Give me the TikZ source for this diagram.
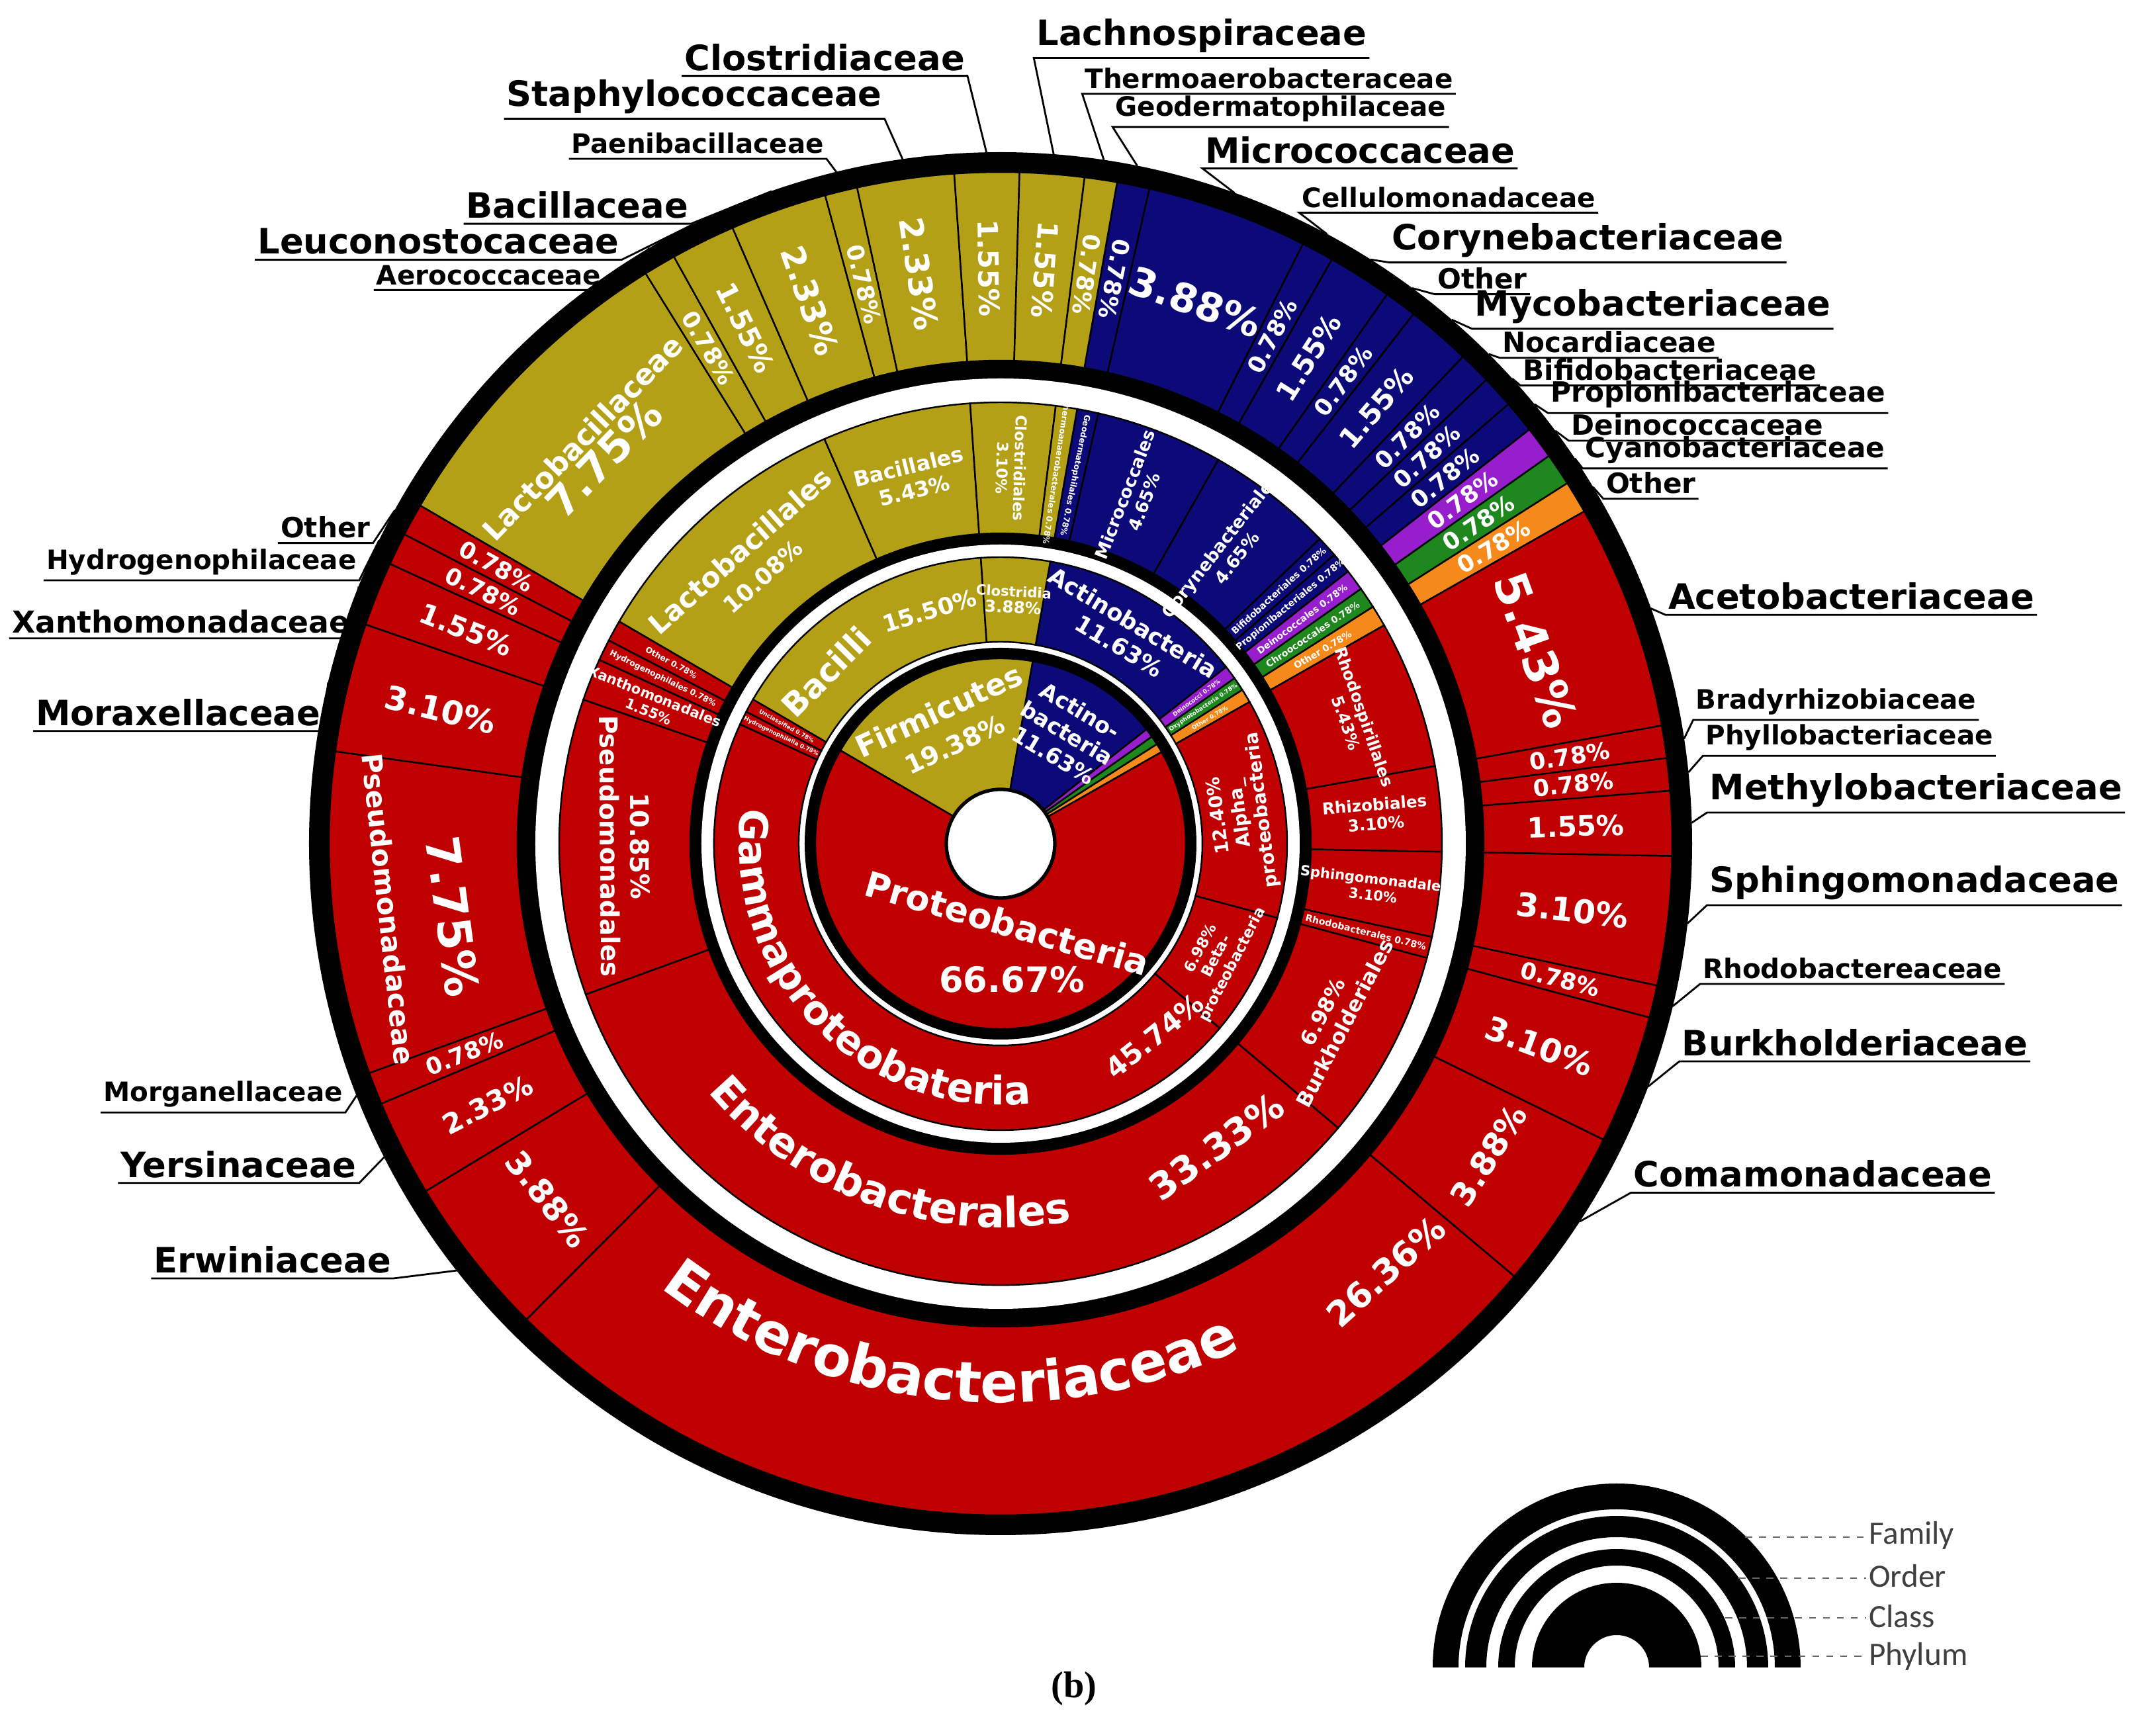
\documentclass[tikz,border=0pt]{standalone}
\usepackage{fontspec}
\setmainfont{DejaVu Sans}
\newfontfamily\carl{Carlito}
\newfontfamily\tms{Liberation Serif}
\usetikzlibrary{decorations.text}
\definecolor{pro}{RGB}{192,0,0}
\definecolor{fir}{RGB}{179,160,22}
\definecolor{act}{RGB}{12,10,120}
\definecolor{dei}{RGB}{150,30,205}
\definecolor{cya}{RGB}{30,135,30}
\definecolor{oth}{RGB}{245,138,26}
\newcommand\fs[1]{\fontsize{#1}{\fpeval{1.18*#1}}\selectfont\bfseries}
\newcommand\fsE{\fs{24}}
\newcommand\fsO{\fs{18}}
\newcommand\fsG{\fs{17}}
\newcommand\seg[5]{\pgfmathsetmacro\aA{80-3.596*#3}\pgfmathsetmacro\aB{80-3.596*#4}%
\filldraw[fill=#5,draw=black,line width=0.7pt] (\aA:#1) arc[start angle=\aA,end angle=\aB,radius=#1] -- (\aB:#2) arc[start angle=\aB,end angle=\aA,radius=#2] -- cycle;}
\newcommand\ring[3]{\foreach \p/\q/\c in {#3} {\seg{#1}{#2}{\p}{\q}{\c}}}
\newcommand\wl[5]{\pgfmathsetmacro\aM{80-3.596*#2}\pgfmathsetmacro\aR{\aM+#3}%
\node[wt,rotate=\aR,font=#4] at (\aM:#1) {#5};}
\newcommand\labR[5]{\node[lab,font=\fs{#4},anchor=south west] (L#1) at (#2,#3) {#5};
\draw[leader] (F#1) -- (L#1.south west) -- (L#1.south east);}
\newcommand\labL[5]{\node[lab,font=\fs{#4},anchor=south east] (L#1) at (#2,#3) {#5};
\draw[leader] (F#1) -- (L#1.south east) -- (L#1.south west);}
\tikzset{wt/.style={text=white,align=center,inner sep=0pt},
 lab/.style={text=black,inner xsep=1pt,inner ysep=2pt},
 leader/.style={line width=0.8pt,black},
 ctext/.style={decorate,decoration={text along path,text color=white,text align=center}}}
\begin{document}
\begin{tikzpicture}
\useasboundingbox (-15.12,-13.41) rectangle (17.46,12.75);
\fill[white] (-15.12,-13.41) rectangle (17.46,12.75);
% outer black
\fill[black] (0,0) circle (10.45);
% family ring
\ring{7.30}{10.15}{0/0.78/act,0.78/4.66/act,4.66/5.44/act,5.44/6.99/act,6.99/7.77/act,7.77/9.32/act,9.32/10.10/act,10.10/10.88/act,10.88/11.66/act,11.66/12.44/dei,12.44/13.22/cya,13.22/14.00/oth,14.00/19.43/pro,19.43/20.21/pro,20.21/20.99/pro,20.99/22.54/pro,22.54/25.64/pro,25.64/26.42/pro,26.42/29.52/pro,29.52/33.40/pro,33.40/59.76/pro,59.76/63.64/pro,63.64/65.97/pro,65.97/66.75/pro,66.75/74.50/pro,74.50/77.60/pro,77.60/79.15/pro,79.15/79.93/pro,79.93/80.71/pro,80.71/88.46/fir,88.46/89.24/fir,89.24/90.79/fir,90.79/93.12/fir,93.12/93.90/fir,93.90/96.23/fir,96.23/97.78/fir,97.78/99.33/fir,99.33/100.11/fir}
\fill[black] (0,0) circle (7.30);
\fill[white] (0,0) circle (7.03);
% order ring
\ring{4.69}{6.67}{0/0.78/act,0.78/5.44/act,5.44/10.10/act,10.10/10.88/act,10.88/11.66/act,11.66/12.44/dei,12.44/13.22/cya,13.22/14.00/oth,14.00/19.43/pro,19.43/22.54/pro,22.54/25.64/pro,25.64/26.42/pro,26.42/33.40/pro,33.40/66.75/pro,66.75/77.60/pro,77.60/79.15/pro,79.15/79.93/pro,79.93/80.71/pro,80.71/90.79/fir,90.79/96.23/fir,96.23/99.33/fir,99.33/100.11/fir}
\fill[black] (0,0) circle (4.69);
\fill[white] (0,0) circle (4.52);
% class ring
\ring{3.05}{4.33}{0/11.66/act,11.66/12.44/dei,12.44/13.22/cya,13.22/14.00/oth,14.00/26.42/pro,26.42/33.40/pro,33.40/79.15/pro,79.15/79.93/pro,79.93/80.71/pro,80.71/96.23/fir,96.23/100.11/fir}
\fill[white] (0,0) circle (3.02);
\fill[black] (0,0) circle (2.96);
% phylum ring
\ring{0.82}{2.80}{0/11.66/act,11.66/12.44/dei,12.44/13.22/cya,13.22/14.00/oth,14.00/80.71/pro,80.71/100.11/fir}
\filldraw[fill=white,draw=black,line width=1.5pt] (0,0) circle (0.82);

% ---------- family labels inside ----------
\wl{8.7}{0.39}{180}{\fs{10}}{0.78\%}
\wl{8.7}{2.72}{-90}{\fs{17}}{3.88\%}
\wl{8.7}{5.05}{0}{\fs{10}}{0.78\%}
\wl{8.7}{6.215}{0}{\fs{12}}{1.55\%}
\wl{8.7}{7.38}{0}{\fs{10}}{0.78\%}
\wl{8.7}{8.545}{0}{\fs{12}}{1.55\%}
\foreach \pp in {9.71,10.49,11.27,12.05,12.83,13.61} {\wl{8.7}{\pp}{0}{\fs{10}}{0.78\%}}
\wl{8.6}{16.715}{-90}{\fs{20}}{5.43\%}
\wl{8.7}{19.82}{0}{\fs{10}}{0.78\%}
\wl{8.7}{20.6}{0}{\fs{10}}{0.78\%}
\wl{8.7}{21.765}{0}{\fs{12}}{1.55\%}
\wl{8.7}{24.09}{0}{\fs{14}}{3.10\%}
\wl{8.7}{26.03}{0}{\fs{10}}{0.78\%}
\wl{8.7}{27.97}{0}{\fs{14}}{3.10\%}
\wl{8.75}{31.3}{90}{\fs{14}}{3.88\%}
\wl{8.7}{35.6}{90}{\fs{15}}{26.36\%}
\wl{8.7}{61.7}{90}{\fs{14}}{3.88\%}
\wl{8.7}{64.805}{180}{\fs{12}}{2.33\%}
\wl{8.7}{66.36}{180}{\fs{10}}{0.78\%}
\wl{8.35}{70.2}{90}{\fs{20}}{7.75\%}
\wl{9.3}{70.6}{90}{\fs{12}}{Pseudomonadaceae}
\wl{8.7}{76.05}{180}{\fs{14}}{3.10\%}
\wl{8.7}{78.375}{180}{\fs{12}}{1.55\%}
\wl{8.7}{79.54}{180}{\fs{10}}{0.78\%}
\wl{8.7}{80.32}{180}{\fs{10}}{0.78\%}
\wl{8.55}{84.585}{-90}{\fs{12.5}}{Lactobacillaceae\\{\fs{18}7.75\%}}
\wl{8.7}{88.85}{180}{\fs{10}}{0.78\%}
\wl{8.7}{90.015}{180}{\fs{12}}{1.55\%}
\wl{8.7}{91.955}{180}{\fs{14}}{2.33\%}
\wl{8.7}{93.51}{180}{\fs{10}}{0.78\%}
\wl{8.7}{95.065}{180}{\fs{14}}{2.33\%}
\wl{8.7}{97.005}{180}{\fs{12}}{1.55\%}
\wl{8.7}{98.555}{180}{\fs{12}}{1.55\%}
\wl{8.7}{99.72}{180}{\fs{10}}{0.78\%}
\path[ctext,decoration={text={|\fsE|Enterobacteriaceae}}] (227:8.45) arc[start angle=227,end angle=301,radius=8.45];

% ---------- order labels ----------
\wl{5.68}{0.39}{180}{\fs{3.5}}{Geodermatophilales 0.78\%}
\wl{5.6}{3.11}{0}{\fs{7.5}}{Micrococcales\\4.65\%}
\wl{5.6}{7.77}{0}{\fs{7.5}}{Corynebacteriales\\4.65\%}
\wl{5.68}{10.49}{0}{\fs{4}}{Bifidobacteriales 0.78\%}
\wl{5.68}{11.27}{0}{\fs{4}}{Propionibacteriales 0.78\%}
\wl{5.68}{12.05}{0}{\fs{4}}{Deinococcales 0.78\%}
\wl{5.68}{12.83}{0}{\fs{4}}{Chroococcales 0.78\%}
\wl{5.68}{13.61}{0}{\fs{4}}{Other 0.78\%}
\wl{5.68}{16.9}{-90}{\fs{7}}{Rhodospirillales\\5.43\%}
\wl{5.68}{20.99}{0}{\fs{7}}{Rhizobiales\\3.10\%}
\wl{5.68}{24.09}{0}{\fs{6}}{Sphingomonadales\\3.10\%}
\wl{5.68}{26.03}{0}{\fs{4}}{Rhodobacterales 0.78\%}
\wl{5.68}{29.91}{90}{\fs{9}}{6.98\%\\Burkholderiales}
\path[ctext,decoration={text={|\fsO|Enterobacterales}}] (212:5.8) arc[start angle=212,end angle=289,radius=5.8];
\wl{5.62}{37.4}{90}{\fs{16}}{33.33\%}
\wl{5.68}{72.2}{90}{\fs{11}}{10.85\%\\Pseudomonadales}
\wl{5.68}{78.38}{180}{\fs{6}}{Xanthomonadales\\1.55\%}
\wl{5.68}{79.54}{180}{\fs{3.5}}{Hydrogenophilales 0.78\%}
\wl{5.68}{80.32}{180}{\fs{3.5}}{Other 0.78\%}
\wl{5.68}{85.75}{-90}{\fs{12}}{Lactobacillales\\{\fs{10}10.08\%}}
\wl{5.68}{93.51}{-90}{\fs{9}}{Bacillales\\5.43\%}
\wl{5.68}{97.78}{180}{\fs{6.5}}{Clostridiales\\3.10\%}
\wl{5.68}{99.72}{180}{\fs{3.5}}{Thermoanaerobacterales 0.78\%}

% ---------- class labels ----------
\wl{3.69}{5.83}{-90}{\fs{10}}{Actinobacteria\\11.63\%}
\wl{3.69}{12.05}{0}{\fs{2.5}}{Deinococci 0.78\%}
\wl{3.69}{12.83}{0}{\fs{2.5}}{Oxyphotobacteria 0.78\%}
\wl{3.69}{13.61}{0}{\fs{2.5}}{Other 0.78\%}
\wl{3.66}{20.21}{90}{\fs{8}}{12.40\%\\Alpha\_\\proteobacteria}
\wl{3.69}{29.91}{90}{\fs{6.5}}{6.98\%\\Beta-\\proteobacteria}
\path[ctext,decoration={text={|\fsG|Gammaproteobateria}}] (163:3.95) arc[start angle=163,end angle=286,radius=3.95];
\wl{3.72}{36.5}{90}{\fs{12}}{45.74\%}
\wl{3.69}{79.54}{180}{\fs{2.5}}{Hydrogenophilalia 0.78\%}
\wl{3.69}{80.32}{180}{\fs{2.5}}{Unclassified 0.78\%}
\wl{3.7}{84.7}{-90}{\fs{14}}{Bacilli}
\wl{3.68}{92.6}{-90}{\fs{10}}{15.50\%}
\wl{3.69}{98.17}{-90}{\fs{6}}{Clostridia\\{\fs{7}3.88\%}}

% ---------- phylum labels ----------
\wl{1.95}{90.42}{-90}{\fs{13}}{Firmicutes\\{\fs{11}19.38\%}}
\wl{1.95}{5.83}{-90}{\fs{9.5}}{Actino-\\bacteria\\11.63\%}
\node[wt,font=\fs{15},rotate=-16] (prot) at (0.1,-1.2) {Proteobacteria};
\node[wt,font=\fs{15}] (protp) at (0.17,-2.05) {66.67\%};

% ---------- leader anchor points ----------
\foreach \i/\pp in {1/0.39,2/2.72,3/5.05,4/6.215,5/7.38,6/8.545,7/9.71,8/10.49,9/11.27,10/12.05,11/12.83,12/13.61,13/16.715,14/19.82,15/20.6,16/21.765,17/24.09,18/26.03,19/27.97,20/31.46,22/61.7,23/64.805,24/66.36,26/76.05,27/78.375,28/79.54,29/80.32,31/88.85,32/90.015,33/91.955,34/93.51,35/95.065,36/97.005,37/98.555,38/99.72}
{\pgfmathsetmacro\aM{80-3.596*\pp}\coordinate (F\i) at (\aM:10.45);}

% ---------- outside labels (reference pixel frame) ----------
\begin{scope}[x=0.020885cm,y=-0.020885cm,shift={(-723.96,-610.5)}]
\labL{36}{700}{55}{15}{Clostridiaceae}
\labR{37}{748}{42}{15}{Lachnospiraceae}
\labR{38}{783}{68}{11.5}{Thermoaerobacteraceae}
\labR{1}{805}{92}{11.5}{Geodermatophilaceae}
\labR{2}{870}{122}{15}{Micrococcaceae}
\labL{35}{640}{86}{15}{Staphylococcaceae}
\labL{34}{598}{115}{11.5}{Paenibacillaceae}
\labL{33}{500}{162}{15}{Bacillaceae}
\labL{32}{450}{188}{15}{Leuconostocaceae}
\labL{31}{437}{210}{11.5}{Aerococcaceae}
\labR{3}{940}{154}{11.5}{Cellulomonadaceae}
\labR{4}{1005}{190}{15}{Corynebacteriaceae}
\labR{5}{1038}{213}{12}{Other}
\labR{6}{1065}{238}{15}{Mycobacteriaceae}
\labR{7}{1085}{259}{12}{Nocardiaceae}
\labR{8}{1100}{279}{12}{Bifidobacteriaceae}
\labR{9}{1120}{299}{12}{Propionibacteriaceae}
\labR{10}{1135}{319}{12}{Deinococcaceae}
\labR{11}{1145}{339}{12}{Cyanobacteriaceae}
\labR{12}{1160}{361}{12}{Other}
\labR{13}{1205}{445}{15}{Acetobacteriaceae}
\labR{14}{1225}{521}{11.5}{Bradyrhizobiaceae}
\labR{15}{1232}{547}{11.5}{Phyllobacteriaceae}
\labR{16}{1235}{588}{15}{Methylobacteriaceae}
\labR{17}{1235}{655}{15}{Sphingomonadaceae}
\labR{18}{1230}{712}{11.5}{Rhodobactereaceae}
\labR{19}{1215}{768}{15}{Burkholderiaceae}
\labR{20}{1180}{863}{15}{Comamonadaceae}
\labL{29}{270}{393}{12}{Other}
\labL{28}{260}{420}{11.5}{Hydrogenophilaceae}
\labL{27}{255}{462}{13}{Xanthomonadaceae}
\labL{26}{234}{529}{15}{Moraxellaceae}
\labL{24}{250}{805}{11.5}{Morganellaceae}
\labL{23}{260}{856}{15}{Yersinaceae}
\labL{22}{285}{925}{15}{Erwiniaceae}
\end{scope}

% ---------- legend ----------
\begin{scope}[shift={(9.31,-12.45)}]
\foreach \ra/\rb in {2.39/2.78,1.97/2.29,1.54/1.79,0.49/1.28}
 \fill[black] (\rb,0) arc[start angle=0,end angle=180,radius=\rb] -- (-\ra,0) arc[start angle=180,end angle=0,radius=\ra] -- cycle;
\end{scope}
\tikzset{leg/.style={anchor=west,text=black!75,font=\carl\fontsize{14}{16}\selectfont,inner sep=1pt}}
\node[leg] (nf) at (13.08,-10.45) {Family};
\node[leg] (no) at (13.08,-11.07) {Order};
\node[leg] (nc) at (13.08,-11.68) {Class};
\node[leg] (np) at (13.08,-12.28) {Phylum};
\coordinate (lf) at (11.25,-10.48);
\coordinate (lo) at (11.15,-11.10);
\coordinate (lc) at (10.95,-11.70);
\coordinate (lp) at (10.58,-12.28);
\foreach \a/\b in {lf/nf,lo/no,lc/nc,lp/np} \draw[dashed,black!60,line width=0.6pt] (\a) -- (\a -| \b.west);
\node[font=\tms\bfseries\fontsize{16}{18}\selectfont] (cap) at (1.11,-12.77) {(b)};
\end{tikzpicture}
\end{document}
